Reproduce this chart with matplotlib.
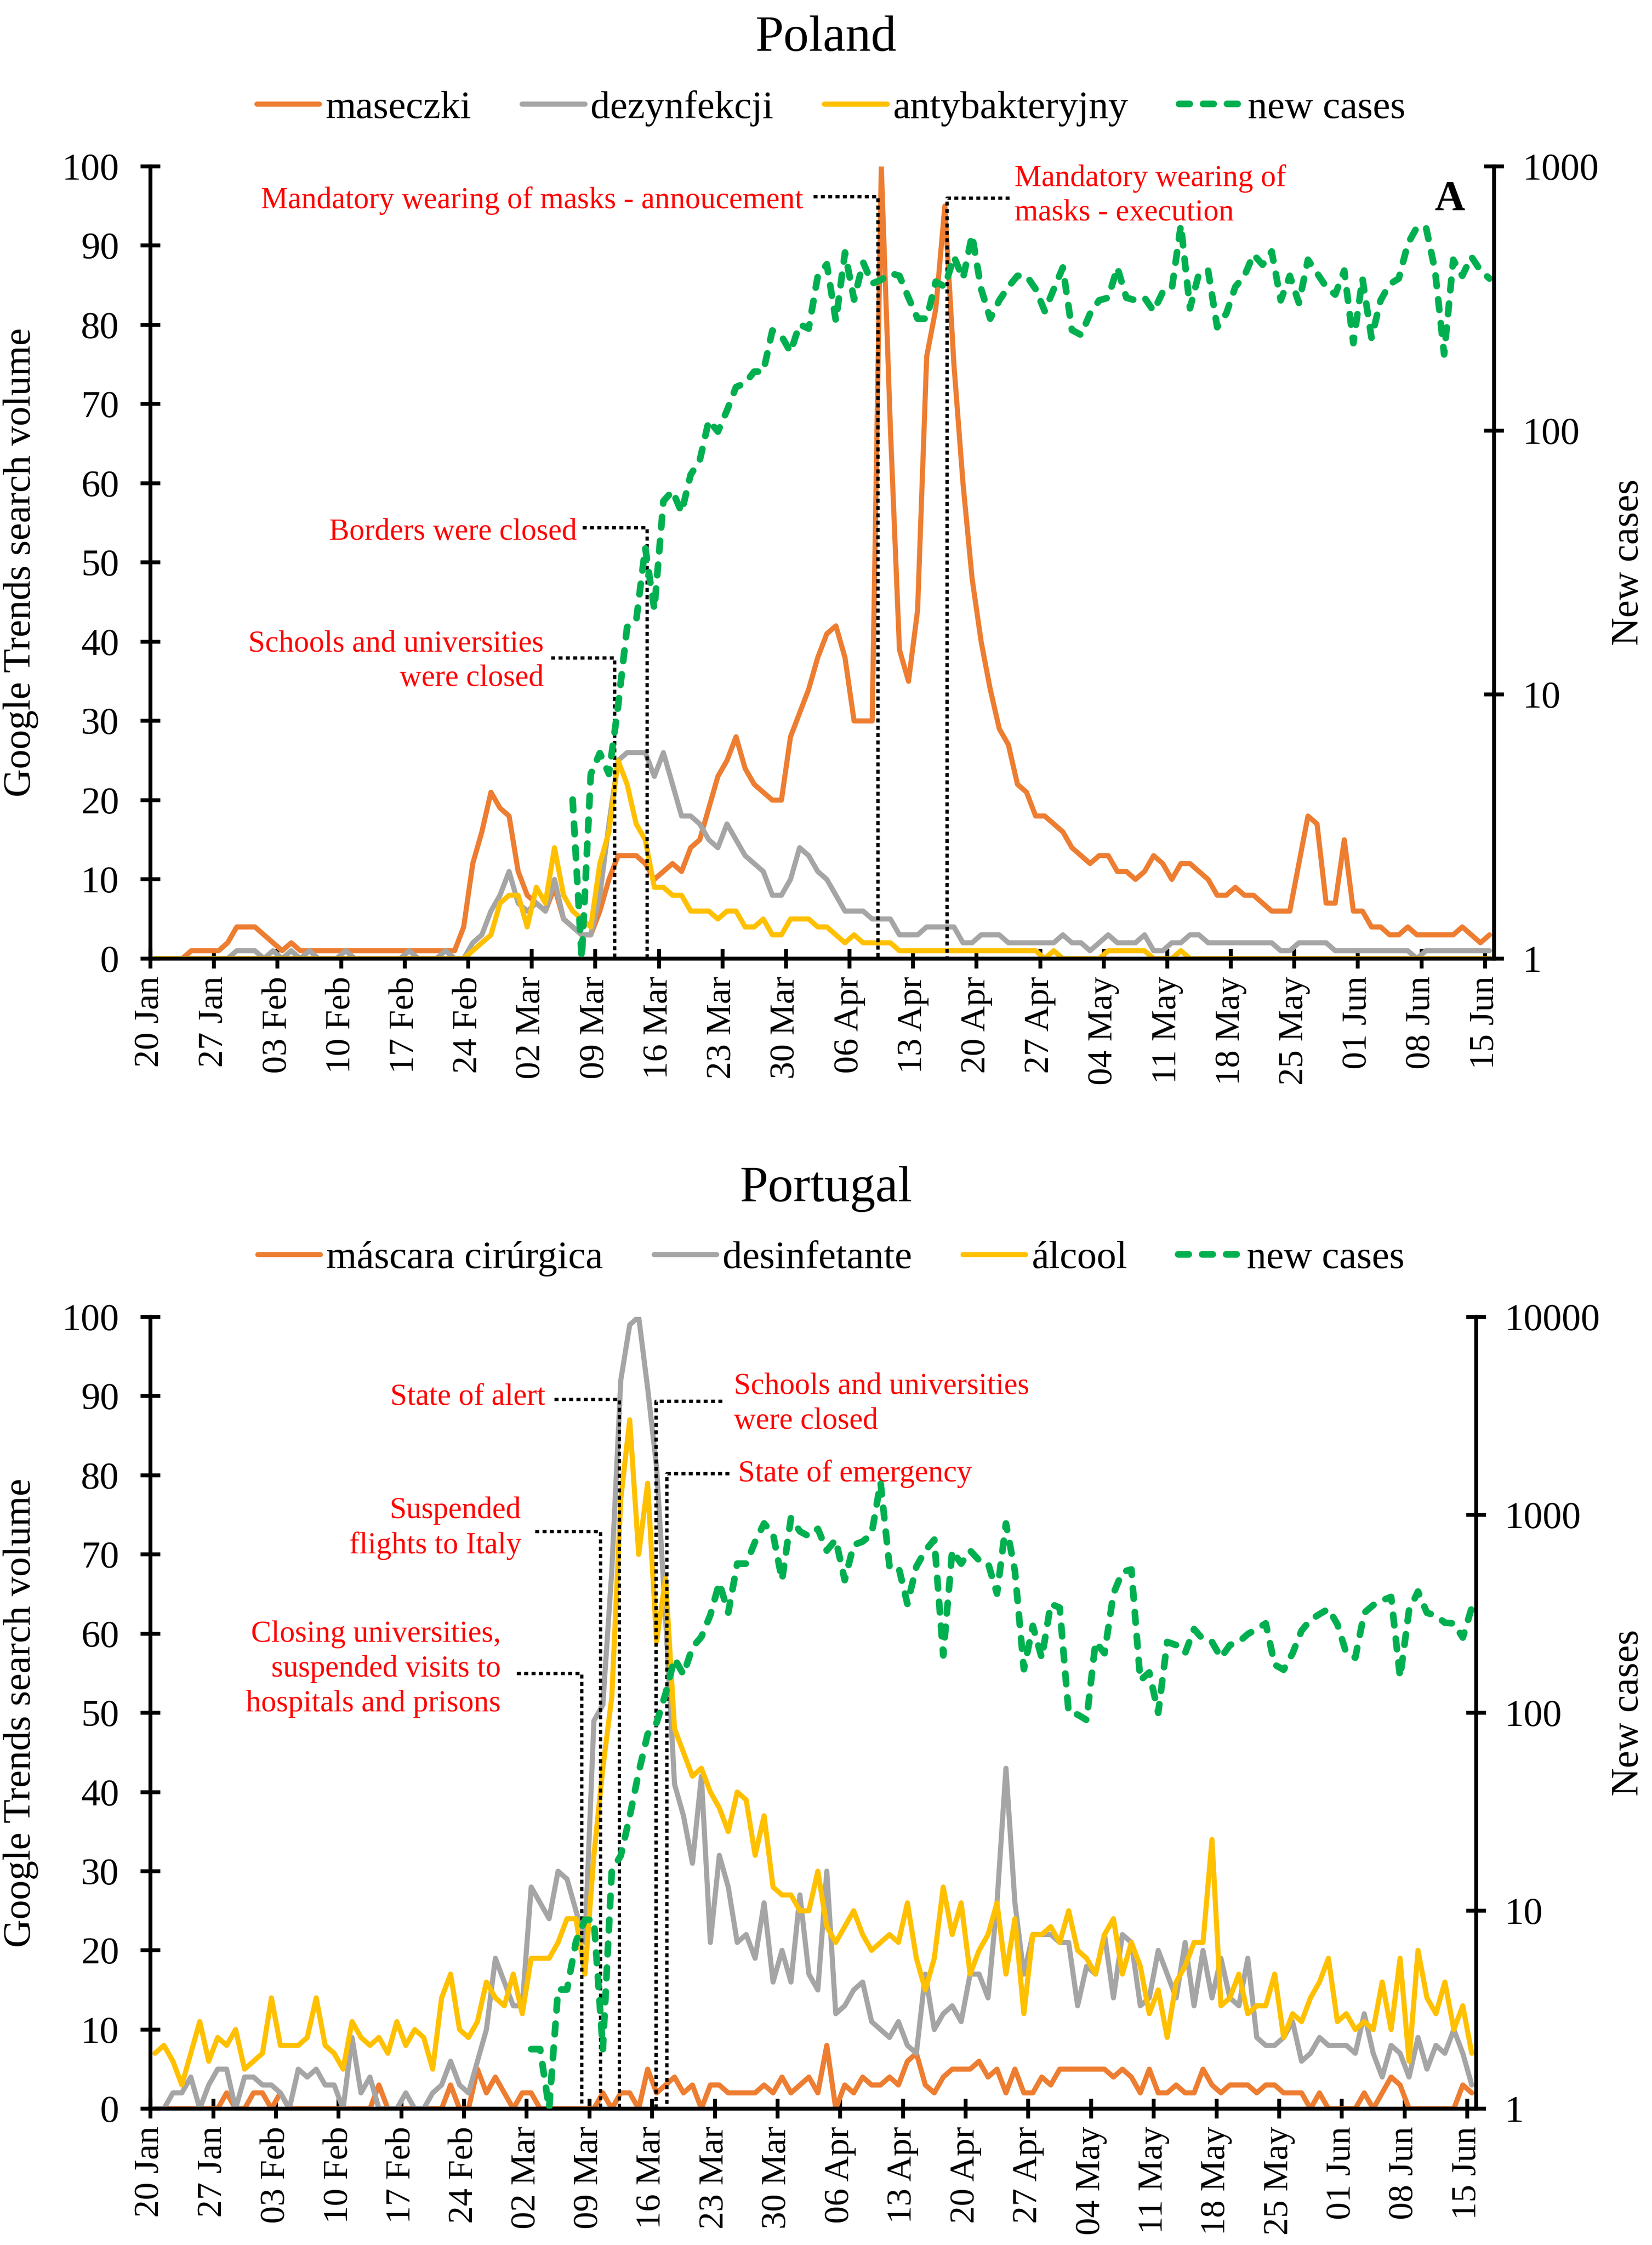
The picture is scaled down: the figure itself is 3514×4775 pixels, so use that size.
import numpy as np
import matplotlib
matplotlib.use('Agg')
import matplotlib.pyplot as plt
from matplotlib.ticker import NullLocator

plt.rcParams['font.family'] = ['Liberation Serif', 'DejaVu Serif']

# x axis: one point per day, 20 Jan - 15 Jun 2020
tick_labels = ['20 Jan', '27 Jan', '03 Feb', '10 Feb', '17 Feb', '24 Feb', '02 Mar',
               '09 Mar', '16 Mar', '23 Mar', '30 Mar', '06 Apr', '13 Apr', '20 Apr',
               '27 Apr', '04 May', '11 May', '18 May', '25 May', '01 Jun', '08 Jun', '15 Jun']

nan = np.nan

# ---- Poland (Google Trends, 0-100) ----
pl_maseczki = [0, 0, 0, 0, 1, 1, 1,
               1, 2, 4, 4, 4, 3, 2,
               1, 2, 1, 1, 1, 1, 1,
               1, 1, 1, 1, 1, 1, 1,
               1, 1, 1, 1, 1, 1, 4,
               12, 16, 21, 19, 18, 11, 8,
               7, 6, 9, 5, 4, 3, 3,
               6, 10, 13, 13, 13, 12, 10,
               11, 12, 11, 14, 15, 19, 23,
               25, 28, 24, 22, 21, 20, 20,
               28, 31, 34, 38, 41, 42, 38,
               30, 30, 30, 100, 67, 39, 35,
               44, 76, 82, 95, 75, 60, 48,
               40, 34, 29, 27, 22, 21, 18,
               18, 17, 16, 14, 13, 12, 13,
               13, 11, 11, 10, 11, 13, 12,
               10, 12, 12, 11, 10, 8, 8,
               9, 8, 8, 7, 6, 6, 6,
               12, 18, 17, 7, 7, 15, 6,
               6, 4, 4, 3, 3, 4, 3,
               3, 3, 3, 3, 4, 3, 2,
               3]
pl_dezynfekcji = [0, 0, 0, 0, 0, 0, 0,
                  0, 0, 1, 1, 1, 0, 1,
                  0, 1, 0, 1, 0, 0, 0,
                  1, 0, 0, 0, 0, 0, 0,
                  1, 0, 0, 0, 1, 0, 0,
                  2, 3, 6, 8, 11, 7, 6,
                  7, 6, 10, 5, 4, 3, 3,
                  8, 17, 25, 26, 26, 26, 23,
                  26, 22, 18, 18, 17, 15, 14,
                  17, 15, 13, 12, 11, 8, 8,
                  10, 14, 13, 11, 10, 8, 6,
                  6, 6, 5, 5, 5, 3, 3,
                  3, 4, 4, 4, 4, 2, 2,
                  3, 3, 3, 2, 2, 2, 2,
                  2, 2, 3, 2, 2, 1, 2,
                  3, 2, 2, 2, 3, 1, 1,
                  2, 2, 3, 3, 2, 2, 2,
                  2, 2, 2, 2, 2, 1, 1,
                  2, 2, 2, 2, 1, 1, 1,
                  1, 1, 1, 1, 1, 1, 0,
                  1, 1, 1, 1, 1, 1, 1,
                  1]
pl_antybakteryjny = [0] * 35 + [
                  1, 2, 3, 7, 8, 8, 4,
                  9, 7, 14, 8, 6, 5, 4,
                  12, 16, 25, 22, 17, 15, 9,
                  9, 8, 8, 6, 6, 6, 5,
                  6, 6, 4, 4, 5, 3, 3,
                  5, 5, 5, 4, 4, 3, 2,
                  3, 2, 2, 2, 2, 1, 1,
                  1, 1, 1, 1, 1, 1, 1,
                  1, 1, 1, 1, 1, 1, 1,
                  0, 1, 0, 0, 0, 0, 0,
                  1, 1, 1, 1, 1, 0, 0,
                  0, 1, 0, 0, 0, 0, 0] + [0] * 29
pl_cases = [nan] * 46 + [
                  4, 1, 5,
                  6, 5, 9, 18, 19, 36, 21,
                  54, 59, 49, 68, 77, 109, 99,
                  119, 146, 151, 167, 167, 239, 228,
                  198, 252, 243, 384, 426, 260, 472,
                  313, 433, 360, 372, 394, 385, 318,
                  265, 265, 366, 350, 455, 376, 549,
                  343, 265, 311, 350, 385, 385, 343,
                  283, 343, 414, 240, 230, 277, 311,
                  318, 414, 318, 311, 318, 283, 334,
                  343, 600, 290, 394, 403, 246, 277,
                  350, 385, 464, 424, 476, 311, 385,
                  304, 443, 394, 350, 327, 403, 214,
                  376, 224, 311, 358, 376, 509, 588,
                  588, 403, 194, 443, 385, 455, 403,
                  376]

# ---- Portugal (Google Trends, 0-100) ----
pt_mascara = [0, 0, 0, 0, 0, 0, 0,
              0, 2, 0, 0, 2, 2, 0,
              2, 0, 0, 0, 0, 0, 0,
              0, 0, 0, 0, 3, 0, 0,
              0, 0, 0, 0, 0, 3, 0,
              0, 5, 2, 4, 2, 0, 2,
              2, 0, 0, 0, 0, 0, 0,
              0, 2, 0, 2, 2, 0, 5,
              2, 3, 4, 2, 3, 0, 3,
              3, 2, 2, 2, 2, 3, 2,
              4, 2, 3, 4, 2, 8, 0,
              3, 2, 4, 3, 3, 4, 3,
              6, 7, 3, 2, 4, 5, 5,
              5, 6, 4, 5, 2, 5, 2,
              2, 4, 3, 5, 5, 5, 5,
              5, 5, 4, 5, 4, 2, 5,
              2, 2, 3, 2, 2, 5, 3,
              2, 3, 3, 3, 2, 3, 3,
              2, 2, 2, 0, 2, 0, 0,
              0, 0, 2, 0, 2, 4, 3,
              0, 0, 0, 0, 0, 0, 3,
              2]
pt_desinfetante = [0, 0, 2, 2, 4, 0, 3,
                   5, 5, 0, 4, 4, 3, 3,
                   2, 0, 5, 4, 5, 3, 3,
                   0, 9, 2, 4, 0, 0, 0,
                   2, 0, 0, 2, 3, 6, 3,
                   2, 6, 10, 19, 16, 13, 13,
                   28, 26, 24, 30, 29, 25, 21,
                   49, 51, 68, 92, 99, 100, 91,
                   81, 62, 41, 37, 31, 42, 21,
                   32, 28, 21, 22, 19, 26, 16,
                   20, 16, 27, 17, 15, 30, 12,
                   13, 15, 16, 11, 10, 9, 11,
                   8, 7, 17, 10, 12, 13, 11,
                   17, 17, 14, 26, 43, 26, 17,
                   22, 22, 22, 21, 21, 13, 18,
                   17, 22, 14, 22, 21, 13, 14,
                   20, 17, 14, 21, 13, 20, 14,
                   19, 14, 13, 19, 9, 8, 8,
                   9, 11, 6, 7, 9, 8, 8,
                   8, 7, 12, 7, 4, 8, 7,
                   4, 9, 5, 8, 7, 10, 7,
                   3]
pt_alcool = [7, 8, 6, 3, 7, 11, 6,
             9, 8, 10, 5, 6, 7, 14,
             8, 8, 8, 9, 14, 8, 7,
             5, 11, 9, 8, 9, 7, 11,
             8, 10, 9, 5, 14, 17, 10,
             9, 11, 16, 14, 13, 17, 12,
             19, 19, 19, 21, 24, 24, 17,
             32, 43, 52, 77, 87, 70, 79,
             59, 67, 48, 45, 42, 43, 40,
             38, 35, 40, 39, 32, 37, 28,
             27, 27, 25, 25, 30, 23, 21,
             23, 25, 22, 20, 21, 22, 21,
             26, 19, 15, 19, 28, 22, 26,
             17, 20, 22, 26, 17, 24, 12,
             22, 22, 23, 21, 25, 20, 19,
             17, 22, 24, 17, 21, 18, 12,
             15, 9, 16, 18, 21, 21, 34,
             13, 14, 17, 12, 13, 13, 17,
             9, 12, 11, 14, 16, 19, 11,
             12, 10, 11, 10, 16, 10, 19,
             6, 20, 14, 12, 16, 10, 13,
             7]
pt_cases = [nan] * 42 + [
             2, 2, 1, 4, 4, 7, 9,
             9, 2, 16, 19, 30, 50, 78,
             89, 125, 188, 156, 214, 242, 312,
             454, 321, 567, 567, 733, 905, 800,
             468, 965, 825, 780, 850, 660, 750,
             468, 705, 733, 800, 1460, 548, 548,
             355, 548, 660, 750, 195, 660, 567,
             660, 590, 570, 400, 905, 520, 166,
             275, 189, 355, 340, 100, 98, 92,
             228, 200, 400, 515, 530, 146, 160,
             100, 228, 220, 200, 265, 235, 228,
             190, 220, 228, 250, 265, 283, 175,
             165, 200, 260, 295, 315, 335, 280,
             200, 190, 320, 350, 370, 385, 151,
             330, 410, 320, 310, 285, 283, 240,
             340]

ORANGE = '#ED7D31'
GRAY = '#A5A5A5'
YELLOW = '#FFC000'
GREEN = '#00B050'

fig = plt.figure(figsize=(3514 / 300, 4775 / 300), dpi=300)


def draw_panel(rect, title, title_y, legend_y, names, trends, cases, cases_top,
               events, right_label_x, left_label_x):
    ax = fig.add_axes(rect)
    x = np.arange(len(trends[0])) + 0.5
    handles = []
    for vals, color in zip(trends, [ORANGE, GRAY, YELLOW]):
        h, = ax.plot(x, vals, color=color, lw=2.6, solid_joinstyle='round',
                     solid_capstyle='round')
        handles.append(h)
    ax.set_xlim(0, 148)
    ax.set_ylim(0, 100)
    ax.set_yticks(range(0, 101, 10))
    ax.set_xticks(range(0, 148, 7))
    ax.set_xticklabels(tick_labels, rotation=90)
    ax.tick_params(axis='x', direction='inout', length=10, width=2, labelsize=18, pad=4)
    ax.tick_params(axis='y', direction='inout', length=10, width=2, labelsize=19.5, pad=11)
    ax.set_ylabel('Google Trends search volume', fontsize=20)
    ax.yaxis.set_label_coords(left_label_x, 0.5)
    for side in ['top', 'right']:
        ax.spines[side].set_visible(False)
    for side in ['left', 'bottom']:
        ax.spines[side].set_linewidth(2)

    ax2 = ax.twinx()
    h, = ax2.plot(x, cases, color=GREEN, lw=3.4, ls=(0, (1.6, 2.0)),
                  dash_capstyle='round', dash_joinstyle='round')
    handles.append(h)
    ax2.set_yscale('log')
    ax2.set_ylim(1, cases_top)
    ticks = [10 ** i for i in range(int(np.log10(cases_top)) + 1)]
    ax2.set_yticks(ticks)
    ax2.set_yticklabels([str(t) for t in ticks])
    ax2.yaxis.set_minor_locator(NullLocator())
    ax2.tick_params(axis='y', direction='inout', length=10, width=2, labelsize=19.5, pad=9.5)
    ax2.set_ylabel('New cases', fontsize=20)
    ax2.yaxis.set_label_coords(right_label_x, 0.5)
    for side in ['top', 'left', 'bottom']:
        ax2.spines[side].set_visible(False)
    ax2.spines['right'].set_linewidth(2)

    # event markers: text, text pos, alignment, start of leader, date line, leader height
    for text, tx, ty, ha, x0, xv, ly in events:
        ax.text(tx, ty, text, ha=ha, va='center', multialignment=ha, color='#FF0000',
                fontsize=15.5, linespacing=1.3, zorder=5)
        ax.plot([x0, xv, xv], [ly, ly, 0], color='black', lw=1.7, ls=(0, (1.2, 1.0)),
                clip_on=False, zorder=6)

    fig.text(0.5, title_y, title, ha='center', va='baseline', fontsize=26)
    fig.legend(handles, names + ['new cases'], loc='center', bbox_to_anchor=(0.503, legend_y),
               ncol=4, frameon=False, fontsize=20, handlelength=1.6, handletextpad=0.15,
               columnspacing=1.3)
    return ax, ax2


pl_events = [
    ('Mandatory wearing of masks - annoucement', 71.9, 95.7, 'right', 73.0, 80.1, 96.2),
    ('Mandatory wearing of\nmasks - execution', 95.2, 96.3, 'left', 94.6, 87.7, 96.0),
    ('Borders were closed', 47.0, 53.8, 'right', 47.6, 54.7, 54.4),
    ('Schools and universities\nwere closed', 43.3, 37.5, 'right', 44.1, 51.1, 38.0),
]
ax_pl, _ = draw_panel([0.0911, 0.5730, 0.8133, 0.3529], 'Poland', 0.9774, 0.9518,
                      ['maseczki', 'dezynfekcji', 'antybakteryjny'],
                      [pl_maseczki, pl_dezynfekcji, pl_antybakteryjny], pl_cases, 1000,
                      pl_events, 1.0868, -0.0833)
ax_pl.text(143.1, 94.5, 'A', ha='center', va='baseline', fontsize=21.5, fontweight='bold')

pt_events = [
    ('Closing universities,\nsuspended visits to\nhospitals and prisons', 39.1, 55.5, 'right', 40.9, 48.1, 55.0),
    ('Suspended\nflights to Italy', 41.4, 73.3, 'right', 42.9, 50.2, 72.9),
    ('State of alert', 44.1, 89.8, 'right', 45.1, 52.3, 89.6),
    ('Schools and universities\nwere closed', 65.1, 89.0, 'left', 63.8, 56.4, 89.4),
    ('State of emergency', 65.6, 80.2, 'left', 64.6, 57.6, 80.2),
]
draw_panel([0.0911, 0.0607, 0.8025, 0.3527], 'Portugal', 0.4649, 0.4394,
           ['máscara cirúrgica', 'desinfetante', 'álcool'],
           [pt_mascara, pt_desinfetante, pt_alcool], pt_cases, 10000,
           pt_events, 1.1014, -0.0844)

fig.savefig('out.png', dpi=300)
